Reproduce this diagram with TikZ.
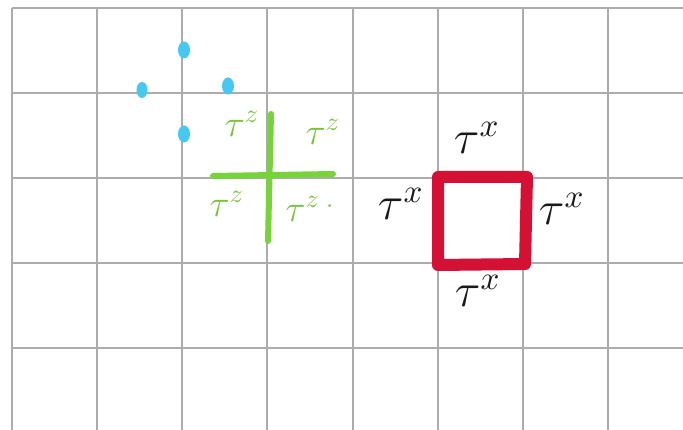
\documentclass[tikz,border=0pt]{standalone}
\definecolor{gridgray}{RGB}{172,172,172}
\definecolor{dotblue}{RGB}{70,200,240}
\definecolor{crossgreen}{RGB}{118,212,58}
\definecolor{labelgreen}{RGB}{122,196,62}
\definecolor{squarered}{RGB}{212,16,52}
\definecolor{inkblack}{RGB}{25,25,25}
\tikzset{
  gridline/.style={draw=gridgray, line width=2.6pt},
  crossline/.style={draw=crossgreen, line width=6pt, line cap=round},
  redsquare/.style={draw=squarered, line width=12pt, line join=round, line cap=round},
  greenlabel/.style={text=labelgreen, inner sep=0pt, font=\Large, scale=2.6},
  blacklabel/.style={text=inkblack, inner sep=0pt, font=\Large, scale=3.3}
}
\begin{document}
\begin{tikzpicture}[x=1pt,y=-1pt]
\useasboundingbox (0,0) rectangle (683,430);
\fill[white] (0,0) rectangle (683,430);
% grid
\foreach \x in {12,97,182,267,353,438,523,608}
  \draw[gridline] (\x,8) -- (\x,430);
\foreach \y in {8,93,178,263,348}
  \draw[gridline] (12,\y) -- (683,\y);
% blue dots
\fill[dotblue] (184,50) ellipse [x radius=6pt, y radius=8.5pt];
\fill[dotblue] (142,90) ellipse [x radius=5.5pt, y radius=8pt];
\fill[dotblue] (228,86) ellipse [x radius=6pt, y radius=8.5pt];
\fill[dotblue] (184,134) ellipse [x radius=6pt, y radius=8.5pt];
% green cross
\coordinate (ctop) at (271,114);
\coordinate (cbot) at (268,241);
\coordinate (cleft) at (213,176);
\coordinate (cright) at (333,174);
\draw[crossline] (ctop) -- (cbot);
\draw[crossline] (cleft) -- (cright);
% green labels
\node[greenlabel] (gul) at (242,124) {$\tau^{z}$};
\node[greenlabel] (gur) at (323,132) {$\tau^{z}$};
\node[greenlabel] (gll) at (227,204) {$\tau^{z}$};
\node[greenlabel] (glr) at (310,209) {$\tau^{z\;.}$};
% red square
\coordinate (s1) at (438,177);
\coordinate (s2) at (527,177);
\coordinate (s3) at (525,264);
\coordinate (s4) at (438,265);
\draw[redsquare] (s1) -- (s2) -- (s3) -- (s4) -- cycle;
% black labels
\node[blacklabel] (lt) at (477,138) {$\tau^{x}$};
\node[blacklabel] (ll) at (401,204) {$\tau^{x}$};
\node[blacklabel] (lr) at (562,209) {$\tau^{x}$};
\node[blacklabel] (lb) at (478,291) {$\tau^{x}$};
\end{tikzpicture}
\end{document}
